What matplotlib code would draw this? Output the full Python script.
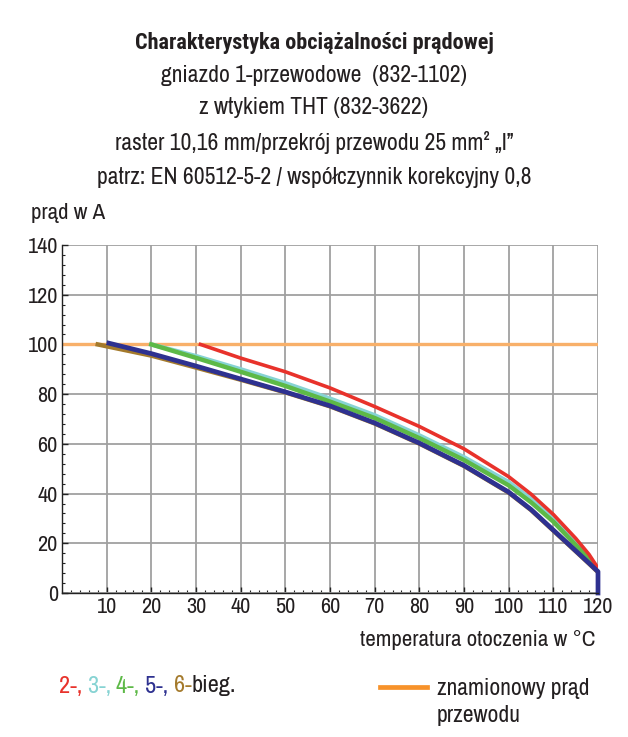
import matplotlib
matplotlib.use("Agg")
import matplotlib.pyplot as plt
from matplotlib.ticker import MultipleLocator
from matplotlib.offsetbox import TextArea, HPacker, AnnotationBbox
from matplotlib import font_manager

names = {f.name for f in font_manager.fontManager.ttflist}
FONT = next((f for f in ["Archivo Narrow", "Roboto Condensed", "Roboto"] if f in names), "DejaVu Sans")
BFONT = next((f for f in ["Roboto Condensed", "Archivo Narrow", "Roboto"] if f in names), "DejaVu Sans")
plt.rcParams['font.family'] = [FONT, 'DejaVu Sans']

# ---- data ----
title_lines = [
    "Charakterystyka obciążalności prądowej",
    "gniazdo 1-przewodowe  (832-1102)",
    "z wtykiem THT (832-3622)",
    "raster 10,16 mm/przekrój przewodu 25 mm² „I”",
    "patrz: EN 60512-5-2 / współczynnik korekcyjny 0,8",
]
ylabel = "prąd w A"
xlabel = "temperatura otoczenia w °C"

x_red = [31, 40, 50, 60, 70, 80, 90, 100, 105, 110, 115, 118, 120]
y_red = [100, 94.5, 89, 82.5, 75, 67, 58, 46.8, 39.8, 31.6, 22, 15.5, 10]

x_cyan = [20, 30, 40, 50, 60, 70, 80, 90, 100, 105, 110, 115, 118, 120]
y_cyan = [100, 95.3, 90, 84.4, 78.2, 71.5, 63.4, 54.6, 44.6, 37.8, 29.8, 20.2, 14.2, 9.6]

x_green = [20, 30, 40, 50, 60, 70, 80, 90, 100, 105, 110, 115, 118, 120]
y_green = [100, 94.6, 89, 83.3, 77, 70.4, 62.3, 53.5, 43.3, 36.5, 28.7, 19.3, 13.6, 9.2]

x_blue = [10.5, 20, 30, 40, 50, 60, 70, 80, 90, 100, 105, 110, 115, 118, 120, 120]
y_blue = [100.5, 96.3, 91.3, 86.1, 80.9, 75.3, 68.4, 60.3, 51.3, 40.6, 33.6, 25.3, 17, 12, 8.6, 0]

x_brown = [8, 20, 30, 40, 50, 60, 70, 80, 90, 100, 105, 110, 115, 118, 120]
y_brown = [100, 95.5, 90.7, 85.8, 80.7, 75.1, 68.2, 60.1, 51.1, 40.4, 33.4, 25.1, 16.8, 11.8, 8.4]

x_rated = [0, 120]
y_rated = [100, 100]

legend_parts = ["2-, ", "3-, ", "4-, ", "5-, ", "6-", "bieg."]
rated_label = "znamionowy prąd\nprzewodu"

# ---- styles ----
C_RED = "#E8322B"
C_CYAN = "#86D3D3"
C_GREEN = "#5DB947"
C_BLUE = "#2E3190"
C_BROWN = "#A47A2C"
C_ORANGE = "#F8B06A"
C_ORANGE_LEG = "#F7922A"
TXT = "#231F20"
legend_colors = [C_RED, C_CYAN, C_GREEN, C_BLUE, C_BROWN, TXT]
FS = 17

fig = plt.figure(figsize=(6.28, 7.37), dpi=100)
ax = fig.add_axes([62/628, 1-593/737, (598-62)/628, (593-245)/737])

ax.set_xlim(0, 120)
ax.set_ylim(0, 140)
ax.xaxis.set_minor_locator(MultipleLocator(2))
ax.yaxis.set_minor_locator(MultipleLocator(4))
ax.grid(True, which='major', color="#A0A0A0", linewidth=1.3)
ax.set_axisbelow(True)
for s in ['top', 'right']:
    ax.spines[s].set_visible(False)
for s in ['left', 'bottom']:
    ax.spines[s].set_color("#222222")
    ax.spines[s].set_linewidth(1.0)
    ax.spines[s].set_zorder(5)
ax.tick_params(which='major', direction='in', length=4, width=1, colors="#222222",
               labelsize=16, pad=3, labelcolor=TXT)
ax.tick_params(which='minor', direction='in', length=2.5, width=0.8, colors="#222222")
ax.set_xticks(range(10, 121, 10))
ax.set_xticklabels([str(v) for v in range(10, 121, 10)])
ax.set_yticks(range(0, 141, 20))
ax.set_yticklabels([str(v) for v in range(0, 141, 20)])

ax.plot(x_rated, y_rated, color=C_ORANGE, lw=2.4, zorder=2, solid_capstyle='butt')
ax.plot(x_brown, y_brown, color=C_BROWN, lw=3.2, zorder=3)
ax.plot(x_cyan, y_cyan, color=C_CYAN, lw=3.2, zorder=3)
ax.plot(x_green, y_green, color=C_GREEN, lw=3.2, zorder=4)
ax.plot(x_red, y_red, color=C_RED, lw=2.6, zorder=4)
ax.plot(x_blue, y_blue, color=C_BLUE, lw=3.4, zorder=5, clip_on=False)

# titles
renderer = fig.canvas.get_renderer()
ys = [43, 75, 107, 143, 178]
for i, (t, yy) in enumerate(zip(title_lines, ys)):
    if i == 0:
        tt = fig.text(0.5, 1-yy/737, t, ha='center', va='center', fontsize=FS,
                      fontweight='bold', family=[BFONT, 'DejaVu Sans'], color=TXT)
        w = tt.get_window_extent(renderer).width
        tt.set_fontsize(FS * 360.0 / w)
    else:
        fig.text(0.5, 1-yy/737, t, ha='center', va='center', fontsize=FS, color=TXT)
fig.text(31/628, 1-213/737, ylabel, ha='left', va='center', fontsize=FS - 0.5, color=TXT)
fig.text(596/628, 1-640/737, xlabel, ha='right', va='center', fontsize=FS - 0.5, color=TXT)

# legend left
areas = [TextArea(p, textprops=dict(color=c, fontsize=FS + 0.5, family=[FONT, 'DejaVu Sans']))
         for p, c in zip(legend_parts, legend_colors)]
box = HPacker(children=areas, align="baseline", pad=0, sep=0)
ab = AnnotationBbox(box, (59/628, 1-686/737), xycoords='figure fraction',
                    box_alignment=(0, 0.5), frameon=False)
fig.add_artist(ab)

# legend right
fig.add_artist(plt.Line2D([380/628, 427/628], [1-687/737, 1-687/737], color=C_ORANGE_LEG,
                          lw=3.4, transform=fig.transFigure))
fig.text(437/628, 1-702/737, rated_label, ha='left', va='center', fontsize=FS,
         color=TXT, linespacing=1.4)

fig.savefig("out.png", dpi=100)
